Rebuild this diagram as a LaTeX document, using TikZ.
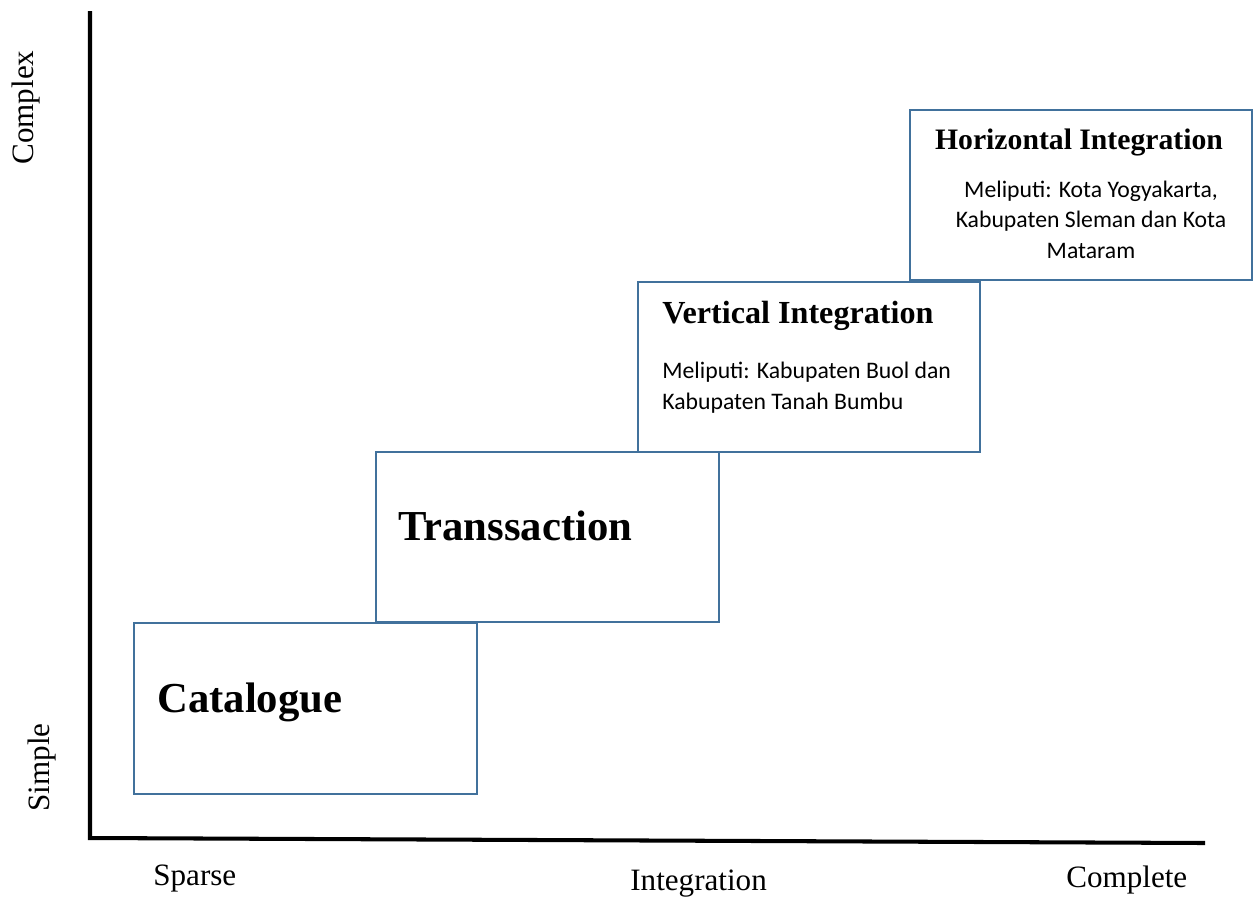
\documentclass[tikz,border=0pt]{standalone}
\usepackage{fontspec}
\setmainfont{Liberation Serif}
\newfontfamily\bodyfont{Carlito}
\definecolor{frameblue}{RGB}{65,113,156}
\begin{document}
\begin{tikzpicture}[x=0.02cm,y=-0.02cm,
  axis/.style={line width=2.3pt,line join=miter},
  panel/.style={draw=frameblue,line width=1.2pt,fill=white,rectangle,inner sep=0pt},
  axlabel/.style={inner sep=0pt,font=\fontsize{17.7}{20}\selectfont},
  bigtitle/.style={inner sep=0pt,anchor=base west,font=\bfseries\fontsize{24.3}{28}\selectfont},
  midtitle/.style={inner sep=0pt,font=\bfseries\fontsize{18.3}{21}\selectfont},
  note/.style={inner sep=0pt,font=\bodyfont\fontsize{13.5}{17.3}\selectfont}]
\useasboundingbox (0,0) rectangle (1255,897);

% axes
\coordinate (ytop) at (90,11);
\coordinate (orig) at (90,838);
\coordinate (xend) at (1205,843);
\draw[axis] (ytop) -- (orig) -- (xend);

% axis labels
\node[axlabel,rotate=90,anchor=base west] (complex) at (33,165) {Complex};
\node[axlabel,rotate=90,anchor=base west] (simple) at (50,812) {Simple};
\node[axlabel,anchor=base west] (sparse) at (153,885) {Sparse};
\node[axlabel,anchor=base west] (integ) at (630,890) {Integration};
\node[axlabel,anchor=base west] (complete) at (1066,887) {Complete};

% stages
\node[panel,minimum width=6.84cm,minimum height=3.40cm] (horiz) at (1081,195) {};
\node[panel,minimum width=6.84cm,minimum height=3.40cm] (vert) at (809,367) {};
\node[panel,minimum width=6.86cm,minimum height=3.40cm] (trans) at (547.5,537) {};
\node[panel,minimum width=6.86cm,minimum height=3.42cm] (cat) at (305.5,708.5) {};

\node[bigtitle] (catT) at (157,712) {Catalogue};
\node[bigtitle] (transT) at (398,540) {Transsaction};

% multi-line notes: the base anchor sits on the last line
\node[midtitle,anchor=base west] (vertT) at (662,323) {Vertical Integration};
\node[note,anchor=base west,align=left] (vertN) at (662,409)
  {Meliputi: Kabupaten Buol dan\\Kabupaten Tanah Bumbu};

\node[midtitle,anchor=base,font=\bfseries\fontsize{16.9}{20}\selectfont] (horizT) at (1079,149) {Horizontal Integration};
\node[note,anchor=base,align=center] (horizN) at (1091,258)
  {Meliputi: Kota Yogyakarta,\\Kabupaten Sleman dan Kota\\Mataram};
\end{tikzpicture}
\end{document}
